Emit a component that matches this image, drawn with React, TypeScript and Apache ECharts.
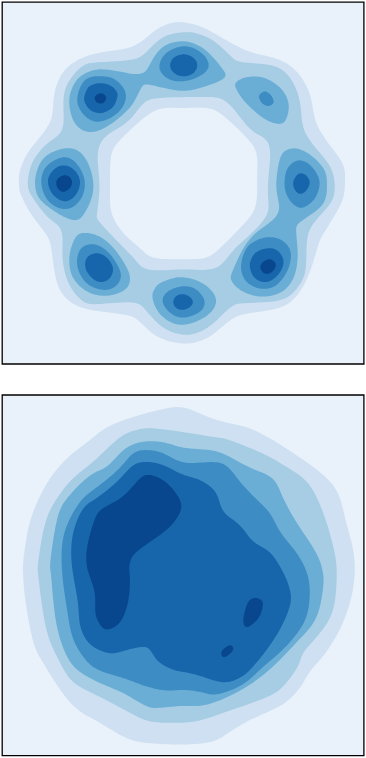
import React, { useEffect, useRef } from "react";
import * as echarts from "echarts";

type Pt = [number, number];

const BG = "#e9f2fa";
const L1 = "#cee0f1";
const L2 = "#a6cde4";
const L3 = "#6aaed6";
const L4 = "#3d8cc4";
const L5 = "#1765ab";
const L6 = "#08478d";

// ---- ring-shaped density (upper panel): contour outlines in data units ----
const ringL1Outer: Pt[] = [[183,22],[170,23],[155,30],[133,47],[100,52],[77,60],[62,73],[54,93],[52,117],[43,133],[27,153],[19,173],[19,185],[20,193],[30,213],[43,230],[50,242],[53,263],[58,287],[70,302],[90,310],[128,315],[140,322],[157,337],[183,344],[203,340],[216,332],[233,318],[250,313],[280,308],[296,297],[308,277],[316,253],[320,240],[330,223],[343,200],[345,180],[343,163],[326,140],[315,120],[310,93],[296,70],[276,58],[250,52],[226,40],[203,27]];
const ringL1Hole: Pt[] = [[183,108],[163,108],[147,115],[127,133],[112,150],[110,173],[110,190],[111,213],[123,233],[140,248],[153,258],[183,259],[206,258],[220,248],[238,230],[253,213],[257,197],[257,180],[257,153],[246,137],[225,117],[210,108]];
const ringL2Outer: Pt[] = [[183,32],[167,35],[155,43],[143,55],[130,60],[100,62],[83,65],[68,82],[63,100],[63,130],[47,143],[33,160],[28,177],[28,188],[32,197],[47,217],[62,230],[62,257],[68,283],[83,302],[100,304],[135,302],[147,312],[163,328],[183,335],[200,332],[215,322],[233,305],[250,303],[283,300],[298,287],[306,270],[307,237],[316,220],[331,203],[335,187],[331,167],[315,147],[303,128],[300,100],[290,77],[273,65],[240,62],[230,55],[213,40],[196,33]];
const ringL2Hole: Pt[] = [[183,97],[157,98],[143,103],[127,123],[98,143],[100,185],[97,213],[100,223],[133,257],[147,270],[183,269],[216,269],[233,250],[255,230],[268,213],[268,197],[268,180],[270,143],[250,130],[226,100],[203,97]];
const ringL3A: Pt[] = [[183,41],[170,43],[160,49],[152,60],[145,72],[134,74],[123,72],[103,69],[90,71],[78,78],[71,90],[69,103],[72,118],[80,129],[93,132],[106,127],[120,117],[132,105],[140,90],[145,84],[160,87],[183,91],[203,87],[225,78],[222,68],[206,50],[193,43]];
const ringL3B: Pt[] = [[235,83],[246,77],[263,77],[280,87],[289,103],[286,120],[278,124],[263,118],[246,103],[238,92]];
const ringL3C: Pt[] = [[70,148],[57,150],[43,158],[36,173],[35,187],[40,200],[57,213],[72,220],[82,217],[92,197],[93,180],[88,163],[80,152]];
const ringL3D: Pt[] = [[80,233],[97,235],[113,247],[127,268],[130,280],[125,290],[107,296],[87,292],[72,277],[69,258],[73,242]];
const ringL3E: Pt[] = [[152,297],[155,288],[160,283],[170,279],[183,277],[203,283],[216,297],[213,310],[200,320],[183,325],[170,322],[158,312]];
const ringL3F: Pt[] = [[296,148],[283,152],[278,167],[276,190],[279,215],[250,237],[233,270],[231,280],[240,290],[255,296],[270,296],[285,290],[295,275],[298,253],[296,230],[300,222],[320,208],[326,197],[327,185],[325,170],[311,155]];
const ringL4A: Pt[] = [[100,76],[113,78],[123,87],[126,97],[122,108],[112,117],[98,122],[87,118],[79,108],[77,97],[82,83],[90,77]];
const ringL4B: Pt[] = [[183,46],[194,48],[205,56],[209,66],[203,74],[190,80],[175,81],[164,76],[159,67],[163,56],[172,49]];
const ringL4C: Pt[] = [[259,95],[265,91],[271,95],[274,102],[269,106],[263,104],[260,100]];
const ringL4D: Pt[] = [[62,157],[73,160],[81,170],[85,183],[82,197],[73,207],[62,209],[50,203],[43,192],[41,178],[47,165]];
const ringL4E: Pt[] = [[90,244],[100,246],[110,254],[118,266],[121,276],[117,285],[107,290],[95,288],[85,282],[78,270],[77,258],[81,248]];
const ringL4F: Pt[] = [[183,286],[196,289],[205,301],[200,312],[183,318],[170,313],[162,301],[168,291]];
const ringL4G: Pt[] = [[268,237],[280,239],[289,247],[291,258],[287,272],[277,285],[265,289],[252,286],[243,277],[241,263],[247,247],[257,240]];
const ringL4H: Pt[] = [[298,160],[308,163],[316,172],[320,183],[316,197],[308,205],[300,208],[291,202],[285,190],[285,176],[289,166]];
const ringL5A: Pt[] = [[100,83],[110,85],[117,92],[117,98],[113,107],[105,112],[98,113],[90,110],[85,103],[84,97],[88,87],[94,84]];
const ringL5B: Pt[] = [[183,54],[191,56],[197,62],[196,70],[190,75],[180,76],[172,71],[170,64],[174,57]];
const ringL5C: Pt[] = [[63,165],[72,168],[78,175],[80,183],[77,193],[70,200],[62,201],[54,196],[49,188],[48,178],[54,169]];
const ringL5D: Pt[] = [[97,253],[105,256],[111,263],[113,270],[110,278],[103,282],[96,281],[89,275],[85,267],[86,259],[90,255]];
const ringL5E: Pt[] = [[183,294],[190,297],[193,302],[190,307],[183,310],[176,308],[173,302],[176,296]];
const ringL5F: Pt[] = [[268,248],[277,250],[283,258],[283,266],[278,275],[268,282],[257,280],[251,272],[250,262],[256,252]];
const ringL5G: Pt[] = [[301,173],[307,176],[310,183],[306,191],[300,194],[295,190],[293,183],[296,176]];
const ringL6A: Pt[] = [[100,93],[105,95],[106,99],[103,103],[98,103],[95,100],[95,96]];
const ringL6B: Pt[] = [[64,175],[70,177],[72,183],[69,189],[63,192],[58,189],[56,183],[58,178]];
const ringL6C: Pt[] = [[268,259],[274,261],[276,266],[272,272],[266,274],[261,270],[261,264]];

// ---- blob-shaped density (lower panel) ----
const blobL1: Pt[] = [[183,407],[163,409],[133,417],[107,427],[90,440],[67,458],[50,478],[37,502],[28,528],[23,562],[23,575],[25,600],[33,643],[43,663],[60,690],[77,710],[100,723],[123,737],[143,743],[183,745],[213,742],[230,732],[250,720],[283,705],[300,688],[311,670],[323,657],[340,630],[351,600],[355,572],[353,548],[346,522],[338,492],[320,472],[296,455],[276,442],[250,428],[223,422],[203,415]];
const blobL2: Pt[] = [[183,432],[167,430],[147,428],[127,433],[113,443],[93,462],[73,478],[57,498],[45,522],[38,562],[38,575],[42,607],[48,637],[60,663],[73,683],[100,697],[130,713],[150,722],[183,723],[203,720],[226,712],[266,698],[283,687],[298,667],[303,653],[316,638],[333,613],[337,572],[333,545],[323,512],[308,482],[283,465],[266,455],[230,440],[213,437]];
const blobL3: Pt[] = [[183,448],[163,442],[140,442],[123,450],[107,467],[90,475],[67,498],[57,518],[50,562],[51,575],[54,610],[60,640],[73,667],[97,682],[123,693],[147,707],[160,708],[183,706],[203,706],[226,698],[250,685],[273,667],[296,643],[316,620],[323,590],[323,572],[316,552],[296,522],[283,498],[273,478],[250,468],[226,455],[210,450]];
const blobL4: Pt[] = [[183,463],[163,453],[147,450],[133,453],[120,468],[100,485],[83,498],[70,518],[62,542],[62,575],[67,610],[72,637],[83,657],[97,670],[123,678],[147,687],[167,691],[183,690],[200,692],[216,695],[243,685],[263,667],[286,647],[306,620],[310,590],[306,570],[296,552],[280,532],[270,513],[255,498],[240,482],[226,465],[210,462]];
const blobL5: Pt[] = [[183,475],[163,465],[147,462],[133,465],[117,482],[97,498],[83,508],[73,532],[71,555],[73,575],[78,603],[80,627],[90,645],[110,654],[127,650],[143,647],[150,650],[158,662],[173,670],[183,672],[200,676],[223,683],[240,678],[253,667],[276,637],[290,607],[290,590],[283,572],[270,552],[253,542],[240,525],[223,512],[216,492],[200,480]];
const blobL6A: Pt[] = [[150,475],[140,478],[123,497],[103,508],[95,518],[88,542],[86,558],[88,572],[95,593],[95,613],[100,625],[107,630],[120,623],[128,603],[130,580],[129,568],[133,555],[150,542],[170,527],[182,508],[175,492],[163,480]];
const blobL6B: Pt[] = [[255,598],[248,602],[243,620],[247,628],[259,618],[263,605],[261,600]];
const blobL6C: Pt[] = [[228,646],[221,652],[224,658],[233,651],[232,646]];

type Layer = { color: string; points: Pt[] };

const withColor = (color: string, lists: Pt[][]): Layer[] => lists.map((points) => ({ color, points }));

// painted back to front, so each hole covers what lies under it
const ringAll: Layer[] = [
  ...withColor(L1, [ringL1Outer]),
  ...withColor(L2, [ringL2Outer]),
  ...withColor(L1, [ringL2Hole]),
  ...withColor(BG, [ringL1Hole]),
  ...withColor(L3, [ringL3A, ringL3B, ringL3C, ringL3D, ringL3E, ringL3F]),
  ...withColor(L4, [ringL4A, ringL4B, ringL4C, ringL4D, ringL4E, ringL4F, ringL4G, ringL4H]),
  ...withColor(L5, [ringL5A, ringL5B, ringL5C, ringL5D, ringL5E, ringL5F, ringL5G]),
  ...withColor(L6, [ringL6A, ringL6B, ringL6C]),
];

const blobAll: Layer[] = [
  ...withColor(L1, [blobL1]),
  ...withColor(L2, [blobL2]),
  ...withColor(L3, [blobL3]),
  ...withColor(L4, [blobL4]),
  ...withColor(L5, [blobL5]),
  ...withColor(L6, [blobL6A, blobL6B, blobL6C]),
];

// closed Catmull-Rom outline through the projected contour points, lightly low-passed
function closedCurve(pts: number[][]): number[][] {
  const n = pts.length;
  const dense: number[][] = [];
  const steps = 8;
  for (let i = 0; i < n; i++) {
    const p0 = pts[(i - 1 + n) % n];
    const p1 = pts[i];
    const p2 = pts[(i + 1) % n];
    const p3 = pts[(i + 2) % n];
    for (let s = 0; s < steps; s++) {
      const t = s / steps;
      const t2 = t * t;
      const t3 = t2 * t;
      const f = (a: number, b: number, c: number, d: number) =>
        0.5 * (2 * b + (c - a) * t + (2 * a - 5 * b + 4 * c - d) * t2 + (3 * b - a - 3 * c + d) * t3);
      dense.push([f(p0[0], p1[0], p2[0], p3[0]), f(p0[1], p1[1], p2[1], p3[1])]);
    }
  }
  const m = dense.length;
  const half = 3;
  return dense.map((_, i) => {
    let x = 0;
    let y = 0;
    for (let k = -half; k <= half; k++) {
      const q = dense[(i + k + m) % m];
      x += q[0];
      y += q[1];
    }
    return [x / (2 * half + 1), y / (2 * half + 1)];
  });
}

function contourSeries(layers: Layer[], axisIndex: number) {
  return {
    type: "custom",
    coordinateSystem: "cartesian2d",
    xAxisIndex: axisIndex,
    yAxisIndex: axisIndex,
    silent: true,
    clip: true,
    data: layers.map((_, i) => [i, 0]),
    renderItem: (_params: any, api: any) => {
      const layer = layers[api.value(0) as number];
      return {
        type: "polygon",
        shape: { points: closedCurve(layer.points.map((p) => api.coord(p))) },
        style: { fill: layer.color, stroke: "none" },
      };
    },
  };
}

const axisBase = { show: false, type: "value" as const, scale: true };

export default function App() {
  const ref = useRef<HTMLDivElement>(null);
  useEffect(() => {
    const chart = echarts.init(ref.current!, undefined, { renderer: "svg" });
    chart.setOption({
      animation: false,
      backgroundColor: "#ffffff",
      grid: [
        { left: 2.2, top: 2.2, width: 361.7, height: 361.8, show: true, backgroundColor: BG, borderColor: "#000", borderWidth: 1.3 },
        { left: 2.2, top: 395, width: 361.7, height: 360.7, show: true, backgroundColor: BG, borderColor: "#000", borderWidth: 1.3 },
      ],
      xAxis: [
        { ...axisBase, gridIndex: 0, min: 2, max: 364 },
        { ...axisBase, gridIndex: 1, min: 2, max: 364 },
      ],
      yAxis: [
        { ...axisBase, gridIndex: 0, min: 2, max: 364, inverse: true },
        { ...axisBase, gridIndex: 1, min: 395, max: 756, inverse: true },
      ],
      series: [contourSeries(ringAll, 0), contourSeries(blobAll, 1)],
    });
    return () => chart.dispose();
  }, []);
  return <div ref={ref} style={{ position: "absolute", left: 0, top: 0, width: 366, height: 758 }} />;
}
